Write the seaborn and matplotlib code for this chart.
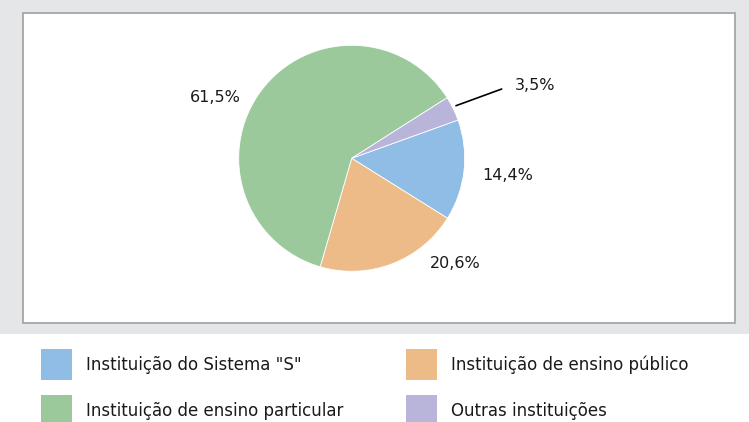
import matplotlib
matplotlib.use("Agg")
import matplotlib.pyplot as plt
from matplotlib.patches import Rectangle
import seaborn as sns

# data
categories = ['Instituição do Sistema "S"', 'Instituição de ensino público',
              'Instituição de ensino particular', 'Outras instituições']
shares = [14.4, 20.6, 61.5, 3.5]
colors = ['#8fbde6', '#ecbb87', '#9bc99c', '#b9b5da']

sns.set_theme(style="white")
plt.rcParams['font.family'] = ['DejaVu Sans']

W, H = 749, 422
fig = plt.figure(figsize=(W / 100, H / 100), dpi=100)
ax = fig.add_axes([0, 0, 1, 1])

def py(y):
    # pixel row (from top) -> data y (from bottom)
    return H - y

# gray band and framed white panel
ax.add_patch(Rectangle((0, py(334)), W, 334, facecolor='#e5e6e8', edgecolor='none', zorder=0))
ax.add_patch(Rectangle((23, py(323)), 712, 310, facecolor='white', edgecolor='#ababab',
                       linewidth=1.4, zorder=1))

# pie
center = (351.7, py(158.3))
wedges, _ = ax.pie(shares, colors=colors, startangle=19.8, counterclock=False,
                   center=center, radius=113, frame=True,
                   wedgeprops=dict(edgecolor='white', linewidth=0.6))
for w in wedges:
    w.set_zorder(2)

# value labels (positions are layout)
label_pos = [(507.5, 175), (455, 263), (215.5, 97), (535, 85)]
for v, (x, y) in zip(shares, label_pos):
    ax.text(x, py(y), f"{v:.1f}".replace('.', ',') + '%', ha='center', va='center',
            fontsize=11.5, color='#1a1a1a', zorder=3)
ax.plot([456, 501.7], [py(105.7), py(89)], color='black', linewidth=1.2, zorder=3)

# legend
leg_cols = [41, 406]
leg_rows = [349, 395]
for i, (cat, c) in enumerate(zip(categories, colors)):
    x = leg_cols[i % 2]
    y = leg_rows[i // 2]
    ax.add_patch(Rectangle((x, py(y + 31)), 31, 31, facecolor=c, edgecolor='none', zorder=2))
    ax.text(x + 45, py(y + 15.5), cat, ha='left', va='center', fontsize=12,
            color='#1a1a1a', zorder=3)

ax.set_xlim(0, W)
ax.set_ylim(0, H)
ax.set_aspect('equal')
ax.axis('off')

fig.savefig('out.png', dpi=100)
